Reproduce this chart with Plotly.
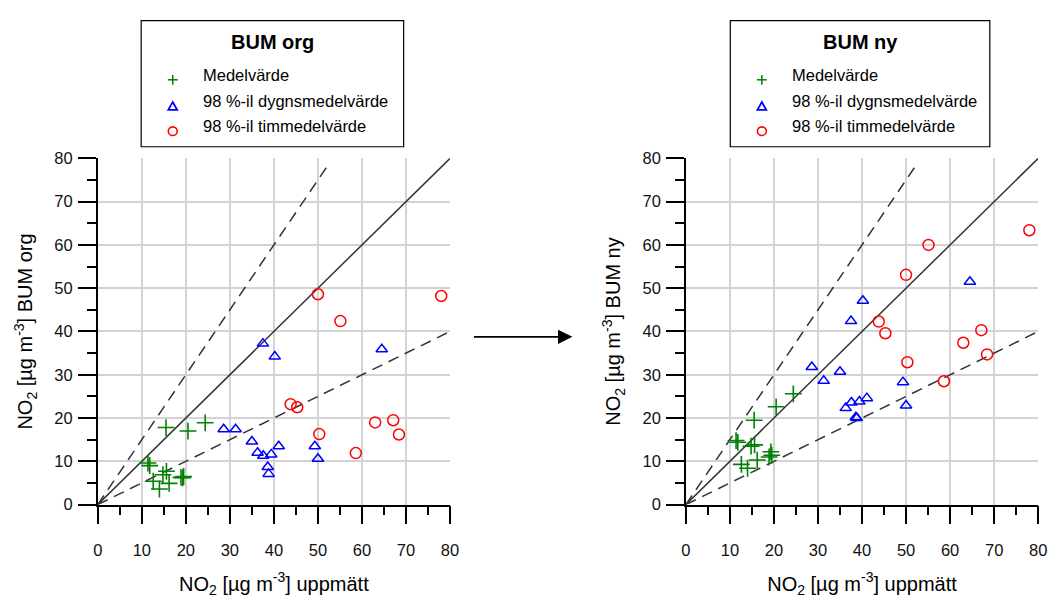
import plotly.graph_objects as go

W, H = 1059, 598

# ---- data ----
# Medelvärde
med_x = [24.4, 20.5, 15.5, 11.4, 11.8, 14.0, 12.6, 14.8, 15.6, 16.2, 18.9, 19.3, 19.5]
med_org = [18.9, 17.0, 17.8, 9.6, 9.0, 3.6, 5.4, 6.9, 7.7, 4.9, 6.3, 6.2, 6.5]
med_ny = [25.6, 22.6, 19.5, 14.8, 14.4, 8.4, 9.3, 13.5, 13.8, 10.3, 11.0, 12.2, 11.4]

# 98 %-il dygnsmedelvärde
dyg_x = [28.6, 31.3, 35.0, 36.3, 37.5, 37.6, 38.6, 38.8, 39.4, 40.2, 41.1, 49.3, 50.0, 64.5]
dyg_org = [17.4, 17.4, 14.6, 12.0, 37.2, 11.3, 8.7, 7.1, 11.6, 34.2, 13.5, 13.5, 10.6, 35.9]
dyg_ny = [31.8, 28.6, 30.7, 22.3, 42.4, 23.6, 20.2, 20.0, 23.8, 47.1, 24.6, 28.3, 22.9, 51.5]

# 98 %-il timmedelvärde
tim_x = [43.8, 45.3, 50.0, 50.3, 55.1, 58.6, 63.0, 67.1, 68.4, 78.0]
tim_org = [23.2, 22.5, 48.6, 16.3, 42.4, 11.9, 19.0, 19.5, 16.2, 48.2]
tim_ny = [42.3, 39.6, 53.1, 32.9, 60.0, 28.5, 37.4, 40.3, 34.7, 63.4]

# reference lines (1:1, 1.5:1, 0.5:1)
one_x, one_y = [0, 80], [0, 80]
up_x, up_y = [0, 52], [0, 78]
lo_x, lo_y = [0, 80], [0, 40]

tick_vals = [0, 10, 20, 30, 40, 50, 60, 70, 80]
series_names = ["Medelvärde", "98 %-il dygnsmedelvärde", "98 %-il timmedelvärde"]
panel_titles = ["BUM org", "BUM ny"]

FONT = "Liberation Sans, Arial, sans-serif"
GREEN, BLUE, RED = "#008000", "#0000ff", "#ff0000"
LINEC = "#333333"

fig = go.Figure()

panels = [("x", "y", med_org, dyg_org, tim_org), ("x2", "y2", med_ny, dyg_ny, tim_ny)]
for xa, ya, med, dyg, tim in panels:
    fig.add_trace(go.Scatter(x=one_x, y=one_y, mode="lines", xaxis=xa, yaxis=ya,
                             line=dict(color=LINEC, width=1.5), showlegend=False, hoverinfo="skip"))
    fig.add_trace(go.Scatter(x=up_x, y=up_y, mode="lines", xaxis=xa, yaxis=ya,
                             line=dict(color=LINEC, width=1.5, dash="11px,7px"), showlegend=False, hoverinfo="skip"))
    fig.add_trace(go.Scatter(x=lo_x, y=lo_y, mode="lines", xaxis=xa, yaxis=ya,
                             line=dict(color=LINEC, width=1.5, dash="11px,7px"), showlegend=False, hoverinfo="skip"))
    fig.add_trace(go.Scatter(x=med_x, y=med, mode="markers", xaxis=xa, yaxis=ya, name=series_names[0],
                             marker=dict(symbol="cross-thin", size=12, line=dict(color=GREEN, width=1.6)),
                             showlegend=False))
    fig.add_trace(go.Scatter(x=dyg_x, y=dyg, mode="markers", xaxis=xa, yaxis=ya, name=series_names[1],
                             marker=dict(symbol="triangle-up-open", size=10, color=BLUE, line=dict(color=BLUE, width=1.5)),
                             showlegend=False))
    fig.add_trace(go.Scatter(x=tim_x, y=tim, mode="markers", xaxis=xa, yaxis=ya, name=series_names[2],
                             marker=dict(symbol="circle-open", size=11, color=RED, line=dict(color=RED, width=1.5)),
                             showlegend=False))


def px(x):
    return x / W


def py(y):
    return 1 - y / H


# ---- custom legend boxes ----
boxes = [(138, 404), (735, 998)]
for (bx0, bx1), title in zip(boxes, panel_titles):
    fig.add_shape(type="rect", xref="paper", yref="paper",
                  x0=px(bx0), x1=px(bx1), y0=py(142), y1=py(12),
                  line=dict(color="black", width=1.2), fillcolor="white", layer="below")
    fig.add_annotation(x=px((bx0 + bx1) / 2), y=py(34), xref="paper", yref="paper",
                       text="<b>" + title + "</b>", showarrow=False,
                       xanchor="center", yanchor="middle",
                       font=dict(family=FONT, size=20, color="black"))
    mx = bx0 + 32
    rows = [73, 100, 126]
    # legend icons
    y0 = rows[0]
    fig.add_shape(type="line", xref="paper", yref="paper", x0=px(mx - 5), x1=px(mx + 5), y0=py(y0), y1=py(y0),
                  line=dict(color=GREEN, width=1.5))
    fig.add_shape(type="line", xref="paper", yref="paper", x0=px(mx), x1=px(mx), y0=py(y0 - 5), y1=py(y0 + 5),
                  line=dict(color=GREEN, width=1.5))
    y1 = rows[1]
    fig.add_shape(type="path", xref="paper", yref="paper",
                  path=f"M {px(mx - 4.5)} {py(y1 + 4)} L {px(mx + 4.5)} {py(y1 + 4)} L {px(mx)} {py(y1 - 4)} Z",
                  line=dict(color=BLUE, width=1.8))
    y2 = rows[2]
    fig.add_shape(type="circle", xref="paper", yref="paper", x0=px(mx - 4.5), x1=px(mx + 4.5),
                  y0=py(y2 + 4.5), y1=py(y2 - 4.5), line=dict(color=RED, width=1.6))
    for nm, yy in zip(series_names, rows):
        fig.add_annotation(x=px(mx + 29), y=py(yy - 5), xref="paper", yref="paper",
                           text=nm, showarrow=False, xanchor="left", yanchor="middle",
                           font=dict(family=FONT, size=16.5, color="black"))

# arrow between panels
fig.add_annotation(x=px(575), y=py(338), xref="paper", yref="paper",
                   ax=-100, ay=0, axref="pixel", ayref="pixel",
                   text="", showarrow=True, arrowhead=2, arrowsize=1.6, arrowwidth=1.8,
                   arrowcolor="black")

common_x = dict(range=[0, 80], tickvals=tick_vals, showgrid=True, gridcolor="#d3d3d3", gridwidth=1.5,
                showline=True, linecolor="black", linewidth=1.5, ticks="outside", ticklen=18,
                tickwidth=1.5, tickcolor="black", zeroline=False,
                minor=dict(ticks="outside", ticklen=9, tickwidth=1.5, tickcolor="black", dtick=5,
                           tick0=0, showgrid=False),
                tickfont=dict(family=FONT, size=16.5, color="#111"), fixedrange=True)
common_y = dict(common_x)

xtitle = "NO<sub>2</sub> [µg m<sup>-3</sup>] uppmätt"
fig.update_layout(
    width=W, height=H, margin=dict(l=0, r=0, t=0, b=0),
    paper_bgcolor="white", plot_bgcolor="white",
    font=dict(family=FONT, color="black"),
    xaxis=dict(domain=[px(94), px(451)], anchor="y", ticklabelstandoff=12,
               title=dict(text=xtitle, font=dict(family=FONT, size=20), standoff=19), **common_x),
    yaxis=dict(domain=[py(511), py(154)], anchor="x", ticklabelstandoff=2,
               title=dict(text="NO<sub>2</sub> [µg m<sup>-3</sup>] BUM org", font=dict(family=FONT, size=20), standoff=16),
               **common_y),
    xaxis2=dict(domain=[px(690), px(1047)], anchor="y2", ticklabelstandoff=12,
                title=dict(text=xtitle, font=dict(family=FONT, size=20), standoff=19), **common_x),
    yaxis2=dict(domain=[py(511), py(154)], anchor="x2", ticklabelstandoff=2,
                title=dict(text="NO<sub>2</sub> [µg m<sup>-3</sup>] BUM ny", font=dict(family=FONT, size=20), standoff=16),
                **common_y),
)

fig.write_html("out.html")
